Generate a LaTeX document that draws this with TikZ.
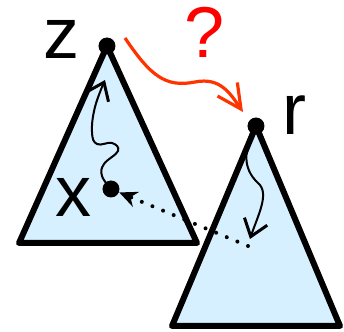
\documentclass[tikz,border=0pt]{standalone}
\usepackage{fontspec}
\setmainfont{Liberation Sans}
\usetikzlibrary{arrows.meta}
\definecolor{treeblue}{HTML}{D6F0FF}
\definecolor{askred}{HTML}{FF3300}

\begin{document}
\begin{tikzpicture}[
  x=0.5pt, y=-0.5pt,
  tri/.style={draw=black, fill=treeblue, line width=3pt, line join=round},
  dot/.style={circle, fill=black, minimum size=8.5pt, inner sep=0pt},
  lab/.style={font=\fontsize{36}{40}\selectfont, inner sep=0pt},
  walk/.style={-{Straight Barb[length=8pt, width=12pt, line width=1.5pt]}, line width=1pt},
  jump/.style={-{Straight Barb[length=12pt, width=12pt, line width=1.6pt]}, askred, line width=1.6pt},
  hop/.style={-{Stealth[length=9pt, width=8pt]}, line width=2pt, line cap=round, dash pattern=on 0pt off 5.75pt},
]
\useasboundingbox (0,0) rectangle (344,332);
% ---------------- left tree: z down to x
\draw[tri] (107,46) -- (19,243) -- (197,243) -- cycle;
\node[dot] (z) at (107,46) {};
\node[dot] (x) at (111,189) {};
\node[lab] (zlab) at (62,39) {z};
\node[lab] (xlab) at (73,197) {x};
\coordinate (up) at (105,80);
\draw[walk] plot[smooth, tension=0.7] coordinates {(x) (102,176) (104,164) (118,151) (112,143) (97,144) (92,132) (95,107) (up)};
% ---------------- right tree: r down to y
\draw[tri] (256,126) -- (172,326) -- (340,326) -- cycle;
\node[dot] (r) at (256,126) {};
\node[lab] (rlab) at (294,115) {r};
\coordinate (down) at (250,239);
\coordinate (y) at (248,246);
\draw[walk] (r) .. controls (245,150) and (242,168) .. (258,183)
  .. controls (270,193) and (258,215) .. (down);
\draw[hop] (y) -- (x);
% ---------------- the jump from z to r
\coordinate (qs) at (125,38);
\coordinate (qe) at (243,112);
\node[lab, text=red] (ask) at (205,32) {?};
\draw[jump] (qs) .. controls (150,75) and (165,88) .. (195,82)
  .. controls (220,77) and (230,93) .. (qe);
\end{tikzpicture}
\end{document}
